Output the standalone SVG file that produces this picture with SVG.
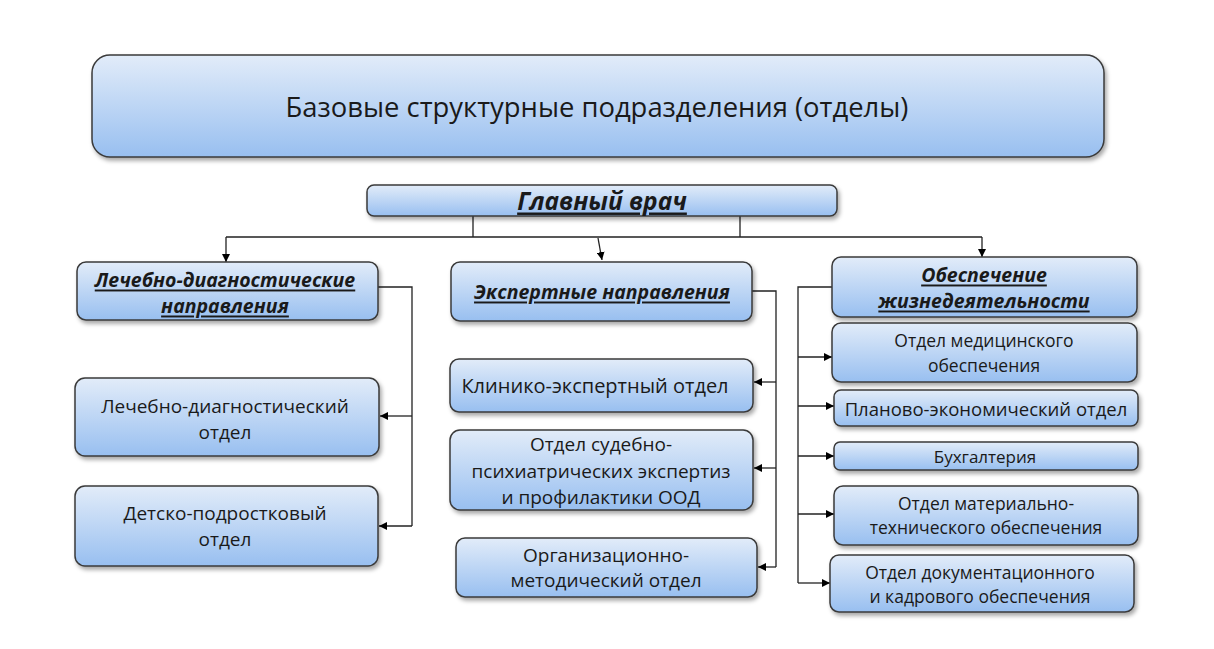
<svg xmlns="http://www.w3.org/2000/svg" width="1214" height="649" viewBox="0 0 1214 649">
<defs>
<linearGradient id="g" x1="0" y1="0" x2="0" y2="1">
<stop offset="0" stop-color="#e2ecf9"/>
<stop offset="1" stop-color="#98bff0"/>
</linearGradient>
<filter id="sh" x="-10%" y="-20%" width="120%" height="150%">
<feDropShadow dx="2" dy="3" stdDeviation="2" flood-color="#000" flood-opacity="0.35"/>
</filter>
<marker id="ah" viewBox="0 0 10 10" refX="10" refY="5" markerWidth="8" markerHeight="8" markerUnits="userSpaceOnUse" orient="auto">
<path d="M0,0 L10,5 L0,10 z" fill="#000"/>
</marker>
<style>
.box{fill:url(#g);stroke:#3a3a3a;stroke-width:1.5;filter:url(#sh)}
text{font-family:"Open Sans","Liberation Sans",sans-serif;fill:#1a1a1a;text-anchor:middle;dominant-baseline:central}
.t{font-size:19px}
.s{font-size:17.5px}
.h{font-size:19.5px;font-weight:bold;font-style:italic;text-decoration:underline}
.c{fill:none;stroke:#222;stroke-width:1.3}
.a{marker-end:url(#ah)}
</style>
</defs>
<g id="connectors">
<path class="c" d="M473,216 V237 M740,216 V237 M226,237 H982"/>
<path class="c a" d="M226,237 V262"/>
<path class="c a" d="M598,238 L602,260"/>
<path class="c a" d="M982,237 V257"/>
<path class="c" d="M378,287 H412 V526"/>
<path class="c a" d="M412,416 H380"/>
<path class="c a" d="M412,526 H379"/>
<path class="c" d="M752,291 H776 V567"/>
<path class="c a" d="M776,382 H754"/>
<path class="c a" d="M776,468 H754"/>
<path class="c a" d="M776,567 H758"/>
<path class="c" d="M832,287 H798 V583"/>
<path class="c a" d="M798,357 H832"/>
<path class="c a" d="M798,406 H834"/>
<path class="c a" d="M798,456 H834"/>
<path class="c a" d="M798,514 H834"/>
<path class="c a" d="M798,583 H830"/>
</g>
<g id="top">
<rect class="box" x="92" y="55" width="1012" height="102" rx="18"/>
<text x="597" y="106" style="font-size:27.4px">Базовые структурные подразделения (отделы)</text>
</g>
<g id="chief">
<rect class="box" x="367" y="185" width="470" height="31" rx="7"/>
<text class="h" x="602" y="200" style="font-size:24.5px">Главный врач</text>
</g>
<g id="left-head">
<rect class="box" x="77" y="262" width="301" height="58" rx="9"/>
<text class="h" x="225" y="279">Лечебно-диагностические</text>
<text class="h" x="225" y="305">направления</text>
</g>
<g id="mid-head">
<rect class="box" x="451" y="262" width="301" height="59" rx="9"/>
<text class="h" x="602" y="291">Экспертные направления</text>
</g>
<g id="right-head">
<rect class="box" x="832" y="257" width="305" height="60" rx="9"/>
<text class="h" x="984" y="274">Обеспечение</text>
<text class="h" x="984" y="300">жизнедеятельности</text>
</g>
<g id="l1">
<rect class="box" x="75" y="378" width="304" height="78" rx="10"/>
<text class="t" x="225" y="406">Лечебно-диагностический</text>
<text class="t" x="225" y="432">отдел</text>
</g>
<g id="l2">
<rect class="box" x="75" y="486" width="303" height="80" rx="10"/>
<text class="t" x="225" y="513">Детско-подростковый</text>
<text class="t" x="225" y="539">отдел</text>
</g>
<g id="m1">
<rect class="box" x="450" y="359" width="303" height="53" rx="9"/>
<text class="t" x="595" y="385" style="font-size:20px">Клинико-экспертный отдел</text>
</g>
<g id="m2">
<rect class="box" x="450" y="430" width="303" height="80" rx="10"/>
<text class="t" x="601" y="444">Отдел судебно-</text>
<text class="t" x="601" y="471">психиатрических экспертиз</text>
<text class="t" x="601" y="497">и профилактики ООД</text>
</g>
<g id="m3">
<rect class="box" x="456" y="538" width="301" height="59" rx="9"/>
<text class="t" x="606" y="555">Организационно-</text>
<text class="t" x="606" y="580">методический отдел</text>
</g>
<g id="r1">
<rect class="box" x="832" y="323" width="305" height="59" rx="9"/>
<text class="s" x="984" y="340">Отдел медицинского</text>
<text class="s" x="984" y="365">обеспечения</text>
</g>
<g id="r2">
<rect class="box" x="834" y="390" width="304" height="36" rx="7"/>
<text class="s" x="986" y="408" style="font-size:18.5px">Планово-экономический отдел</text>
</g>
<g id="r3">
<rect class="box" x="834" y="442" width="304" height="28" rx="6"/>
<text class="s" x="985" y="456" style="font-size:17px">Бухгалтерия</text>
</g>
<g id="r4">
<rect class="box" x="834" y="486" width="304" height="59" rx="9"/>
<text class="s" x="986" y="503">Отдел материально-</text>
<text class="s" x="986" y="527">технического обеспечения</text>
</g>
<g id="r5">
<rect class="box" x="830" y="555" width="304" height="57" rx="9"/>
<text class="s" x="980" y="572">Отдел документационного</text>
<text class="s" x="980" y="596">и кадрового обеспечения</text>
</g>
</svg>
